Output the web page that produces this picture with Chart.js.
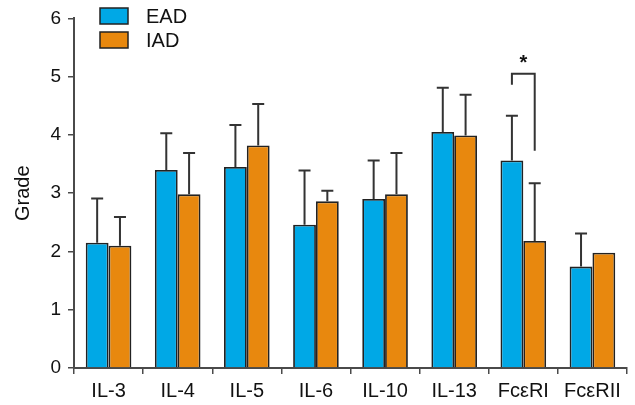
<!DOCTYPE html>
<html>
<head>
<meta charset="utf-8">
<script src="https://cdn.jsdelivr.net/npm/chart.js@4.4.1/dist/chart.umd.min.js"></script>
<style>
  html, body { margin: 0; padding: 0; background: #fff; }
  #wrap { width: 635px; height: 405px; position: relative; }
</style>
</head>
<body>
<div id="wrap"><canvas id="grafico"></canvas></div>
<script>
// Datos
const categorias = ['IL-3', 'IL-4', 'IL-5', 'IL-6', 'IL-10', 'IL-13', 'FcεRI', 'FcεRII'];
const eadMedias = [2.15, 3.40, 3.45, 2.46, 2.90, 4.05, 3.56, 1.74];
const eadError  = [0.76, 0.63, 0.72, 0.93, 0.66, 0.76, 0.77, 0.57];
const iadMedias = [2.10, 2.98, 3.82, 2.86, 2.98, 3.99, 2.18, 1.98];
const iadError  = [0.49, 0.71, 0.71, 0.18, 0.71, 0.70, 0.99, null];
const yTicks = [0, 1, 2, 3, 4, 5, 6];
// corchete de significancia sobre FcεRI
const sigIndice = 6;
const sigTope = 5.05, sigIzq = 4.86, sigDer = 3.73, sigEstrella = 5.22;

const AZUL = '#00a8e6';
const NARANJA = '#e8880e';
const BORDE = '#222';
const EJE = '#4a4a4a';
const FUENTE = "'Liberation Sans', Arial, sans-serif";

// barras de error (solo hacia arriba)
const errorBars = {
  id: 'errorBars',
  afterDatasetsDraw(chart) {
    const ctx = chart.ctx;
    const y = chart.scales.y;
    const errores = [eadError, iadError];
    ctx.save();
    ctx.strokeStyle = '#333';
    ctx.lineWidth = 2;
    chart.data.datasets.forEach((ds, d) => {
      chart.getDatasetMeta(d).data.forEach((bar, i) => {
        const e = errores[d][i];
        if (e == null) return;
        const yTop = y.getPixelForValue(ds.data[i] + e);
        ctx.beginPath();
        ctx.moveTo(bar.x, bar.y);
        ctx.lineTo(bar.x, yTop);
        ctx.moveTo(bar.x - 6, yTop);
        ctx.lineTo(bar.x + 6, yTop);
        ctx.stroke();
      });
    });
    // corchete *
    const b1 = chart.getDatasetMeta(0).data[sigIndice];
    const b2 = chart.getDatasetMeta(1).data[sigIndice];
    ctx.beginPath();
    ctx.moveTo(b1.x, y.getPixelForValue(sigIzq));
    ctx.lineTo(b1.x, y.getPixelForValue(sigTope));
    ctx.lineTo(b2.x, y.getPixelForValue(sigTope));
    ctx.lineTo(b2.x, y.getPixelForValue(sigDer));
    ctx.stroke();
    ctx.fillStyle = '#111';
    ctx.font = 'bold 20px ' + FUENTE;
    ctx.textAlign = 'center';
    ctx.textBaseline = 'middle';
    ctx.fillText('*', (b1.x + b2.x) / 2, y.getPixelForValue(sigEstrella));
    ctx.restore();
  }
};

// leyenda dibujada a mano arriba a la izquierda
const leyenda = {
  id: 'leyenda',
  afterDraw(chart) {
    const ctx = chart.ctx;
    const items = [['EAD', AZUL], ['IAD', NARANJA]];
    ctx.save();
    ctx.font = '20px ' + FUENTE;
    ctx.textBaseline = 'middle';
    ctx.textAlign = 'left';
    items.forEach(([txt, col], k) => {
      const top = 8 + k * 24;
      ctx.fillStyle = col;
      ctx.fillRect(100, top, 28, 16);
      ctx.strokeStyle = BORDE;
      ctx.lineWidth = 1.5;
      ctx.strokeRect(100, top, 28, 16);
      ctx.fillStyle = '#111';
      ctx.fillText(txt, 146, top + 9);
    });
    ctx.restore();
  }
};

new Chart(document.getElementById('grafico'), {
  type: 'bar',
  data: {
    labels: categorias,
    datasets: [
      { label: 'EAD', data: eadMedias, backgroundColor: AZUL, borderColor: BORDE, borderWidth: 1.8 },
      { label: 'IAD', data: iadMedias, backgroundColor: NARANJA, borderColor: BORDE, borderWidth: 1.8 }
    ]
  },
  options: {
    responsive: true,
    maintainAspectRatio: false,
    animation: false,
    layout: { padding: { left: 0, top: 16, right: 8, bottom: 0 } },
    categoryPercentage: 0.66,
    barPercentage: 1.0,
    plugins: { legend: { display: false }, tooltip: { enabled: false } },
    scales: {
      x: {
        grid: { offset: true, drawOnChartArea: false, color: EJE, lineWidth: 1.5, tickLength: 6 },
        border: { color: EJE, width: 2 },
        ticks: { color: '#111', font: { family: FUENTE, size: 20 }, padding: 5, maxRotation: 0, autoSkip: false },
        afterFit(scale) { scale.height = 37; }
      },
      y: {
        min: 0, max: 6,
        afterBuildTicks(scale) { scale.ticks = yTicks.map(v => ({ value: v })); },
        grid: { drawOnChartArea: false, color: EJE, lineWidth: 1.5, tickLength: 6 },
        border: { color: EJE, width: 2 },
        ticks: { color: '#111', font: { family: FUENTE, size: 19 }, padding: 7 },
        title: { display: true, text: 'Grade', color: '#111', font: { family: FUENTE, size: 20 }, padding: { top: 11, bottom: 0 } },
        afterFit(scale) { scale.width = 74; }
      }
    }
  },
  plugins: [errorBars, leyenda]
});
</script>
</body>
</html>
